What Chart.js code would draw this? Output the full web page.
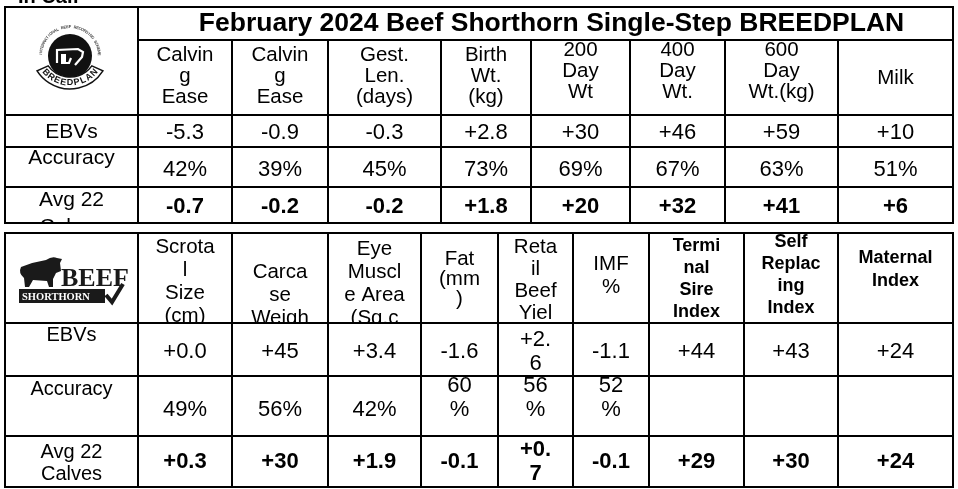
<!DOCTYPE html>
<html>
<head>
<meta charset="utf-8">
<style>
html, body { margin: 0; padding: 0; background: #fff; }
#wrap { width: 958px; height: 489px; }
</style>
<script src="https://cdn.jsdelivr.net/npm/chart.js@4.4.1/dist/chart.umd.min.js"></script>
</head>
<body>
<div id="wrap"><canvas id="c" width="958" height="489"></canvas></div>
<script>
// --- data ---
const title = "February 2024 Beef Shorthorn Single-Step BREEDPLAN";
const caption = "In Calf";
const rowLabels = [["EBVs"], ["Accuracy"], ["Avg 22", "Calves"]];

// header text as it wraps in the original cells
const topHeaders = [["Calvin", "g", "Ease"], ["Calvin", "g", "Ease"], ["Gest.", "Len.", "(days)"], ["Birth", "Wt.", "(kg)"],
  ["200", "Day", "Wt"], ["400", "Day", "Wt."], ["600", "Day", "Wt.(kg)"], ["Milk"]];
const topEbv = ["-5.3", "-0.9", "-0.3", "+2.8", "+30", "+46", "+59", "+10"];
const topAcc = ["42%", "39%", "45%", "73%", "69%", "67%", "63%", "51%"];
const topAvg = ["-0.7", "-0.2", "-0.2", "+1.8", "+20", "+32", "+41", "+6"];

const bottomHeaders = [["Scrota", "l", "Size", "(cm)"], ["Carca", "se", "Weigh"], ["Eye", "Muscl", "e Area", "(Sq.c"],
  ["Fat", "(mm", ")"], ["Reta", "il", "Beef", "Yiel"], ["IMF", "%"], ["Termi", "nal", "Sire", "Index"],
  ["Self", "Replac", "ing", "Index"], ["Maternal", "Index"]];
const bottomEbv = ["+0.0", "+45", "+3.4", "-1.6", "+2.6", "-1.1", "+44", "+43", "+24"];
const bottomAcc = ["49%", "56%", "42%", "60%", "56%", "52%", "", "", ""];
const bottomAvg = ["+0.3", "+30", "+1.9", "-0.1", "+0.7", "-0.1", "+29", "+30", "+24"];

// --- layout (scale units = px of the 958x489 picture) ---
const topCols = [5, 138, 232, 328, 441, 531, 630, 725, 838, 953];
const topRows = [7, 40, 115, 147, 187, 223];
const topHeadY = [55, 55, 55, 55, 50, 50, 50, 78];
const topValY = [133, 170, 207];
const topLabY = [132, 158, 200];

const botCols = [5, 138, 232, 328, 421, 498, 573, 649, 744, 838, 953];
const botRows = [233, 323, 376, 436, 487];
const botHeadY = [247, 272, 249, 259, 247, 264, 246, 242, 258];
const botHeadGap = [23, 23, 23, 20, 22, 23, 22, 22, 23];
const botBoldHead = [false, false, false, false, false, false, true, true, true];
const botValY = [352, 410, 462];
const botValign = ["middle", "bottom", "middle"];
const botLabY = [335, 389, 452];

const SANS = '"Liberation Sans", Arial, sans-serif';
const SERIF = '"Liberation Serif", "DejaVu Serif", serif';

// break a value by characters when it is wider than the cell allows
function wrapChars(ctx, str, maxW) {
  const lines = [];
  let cur = "";
  for (const ch of str) {
    if (cur && ctx.measureText(cur + ch).width > maxW) { lines.push(cur); cur = ch; }
    else cur += ch;
  }
  if (cur) lines.push(cur);
  return lines;
}

function drawBreedplanLogo(ctx, cx, cy) {
  ctx.save();
  // little ring text
  ctx.fillStyle = '#444';
  ctx.font = 'bold 4px ' + SANS;
  const ring = "INTERNATIONAL BEEF RECORDING SCHEME";
  const a0 = Math.PI * 1.02, a1 = Math.PI * 1.98;
  for (let i = 0; i < ring.length; i++) {
    const a = a0 + (a1 - a0) * i / (ring.length - 1);
    ctx.save();
    ctx.translate(cx + Math.cos(a) * 28, cy + Math.sin(a) * 28);
    ctx.rotate(a + Math.PI / 2);
    ctx.textAlign = 'center';
    ctx.fillText(ring[i], 0, 0);
    ctx.restore();
  }
  // black disc with cow
  ctx.fillStyle = '#111';
  ctx.beginPath(); ctx.arc(cx, cy, 22, 0, Math.PI * 2); ctx.fill();
  ctx.strokeStyle = '#fff'; ctx.lineWidth = 2.2;
  ctx.beginPath();
  ctx.moveTo(cx - 13, cy + 7); ctx.lineTo(cx - 13, cy - 6); ctx.lineTo(cx + 8, cy - 7);
  ctx.lineTo(cx + 13, cy - 4); ctx.lineTo(cx + 12, cy + 1); ctx.lineTo(cx + 5, cy + 9);
  ctx.moveTo(cx - 9, cy + 7); ctx.lineTo(cx - 1, cy + 7); ctx.lineTo(cx + 1, cy + 2);
  ctx.stroke();
  ctx.fillStyle = '#fff';
  ctx.fillRect(cx - 9, cy - 2, 5, 8);
  // banner
  ctx.fillStyle = '#fff'; ctx.strokeStyle = '#111'; ctx.lineWidth = 1.5;
  ctx.beginPath();
  ctx.arc(cx, cy - 6, 39, Math.PI * 0.18, Math.PI * 0.82);
  ctx.arc(cx, cy - 6, 27, Math.PI * 0.8, Math.PI * 0.2, true);
  ctx.closePath(); ctx.fill(); ctx.stroke();
  ctx.fillStyle = '#111';
  ctx.font = 'bold 9px ' + SANS;
  const word = "BREEDPLAN";
  const b0 = Math.PI * 0.76, b1 = Math.PI * 0.24;
  for (let i = 0; i < word.length; i++) {
    const a = b0 + (b1 - b0) * i / (word.length - 1);
    ctx.save();
    ctx.translate(cx + Math.cos(a) * 33, cy - 6 + Math.sin(a) * 33);
    ctx.rotate(a - Math.PI / 2);
    ctx.textAlign = 'center'; ctx.textBaseline = 'middle';
    ctx.fillText(word[i], 0, 0);
    ctx.restore();
  }
  ctx.restore();
}

function drawShorthornLogo(ctx, x0, y0) {
  ctx.save();
  ctx.fillStyle = '#1a1a1a';
  // bull silhouette
  ctx.beginPath();
  ctx.moveTo(x0 + 2, y0 + 10);
  ctx.quadraticCurveTo(x0 + 14, y0 + 5, x0 + 27, y0 + 3);
  ctx.quadraticCurveTo(x0 + 33, y0 - 1, x0 + 38, y0 + 1);
  ctx.lineTo(x0 + 43, y0 + 2);
  ctx.lineTo(x0 + 41, y0 + 6);
  ctx.lineTo(x0 + 42, y0 + 14);
  ctx.lineTo(x0 + 37, y0 + 16);
  ctx.lineTo(x0 + 34, y0 + 22);
  ctx.lineTo(x0 + 34, y0 + 30);
  ctx.lineTo(x0 + 30, y0 + 30);
  ctx.lineTo(x0 + 28, y0 + 24);
  ctx.lineTo(x0 + 14, y0 + 23);
  ctx.lineTo(x0 + 10, y0 + 30);
  ctx.lineTo(x0 + 6, y0 + 30);
  ctx.lineTo(x0 + 5, y0 + 21);
  ctx.quadraticCurveTo(x0 - 1, y0 + 16, x0 + 2, y0 + 10);
  ctx.fill();
  // BEEF
  ctx.font = 'bold 26px ' + SERIF;
  ctx.textBaseline = 'alphabetic';
  ctx.fillText("BEEF", x0 + 42, y0 + 29);
  // bar with SHORTHORN
  ctx.fillRect(x0, y0 + 32, 86, 14);
  ctx.fillStyle = '#fff';
  ctx.font = 'bold 10.5px ' + SERIF;
  ctx.fillText("SHORTHORN", x0 + 3, y0 + 43);
  // tick
  ctx.strokeStyle = '#1a1a1a'; ctx.lineWidth = 4;
  ctx.beginPath();
  ctx.moveTo(x0 + 87, y0 + 38); ctx.lineTo(x0 + 93, y0 + 45); ctx.lineTo(x0 + 104, y0 + 27);
  ctx.stroke();
  ctx.restore();
}

const tablePlugin = {
  id: 'tablePlugin',
  afterDraw(chart) {
    const ctx = chart.ctx;
    const X = v => chart.scales.x.getPixelForValue(v);
    const Y = v => chart.scales.y.getPixelForValue(v);

    function cellText(lines, x0, x1, y0, y1, firstY, gap, font, dx) {
      ctx.save();
      ctx.beginPath();
      ctx.rect(X(x0) + 1, Y(y0) + 1, X(x1) - X(x0) - 2, Y(y1) - Y(y0) - 2);
      ctx.clip();
      ctx.font = font;
      ctx.fillStyle = '#000';
      ctx.textAlign = 'center';
      ctx.textBaseline = 'middle';
      const cx = (X(x0) + X(x1)) / 2 + (dx || 0);
      lines.forEach((t, i) => ctx.fillText(t, cx, Y(firstY + i * gap)));
      ctx.restore();
    }

    function valueCell(str, x0, x1, y0, y1, yc, valign, font) {
      if (!str) return;
      ctx.save();
      ctx.font = font;
      const lines = wrapChars(ctx, str, (X(x1) - X(x0)) - 35);
      ctx.restore();
      const gap = 24;
      let first;
      if (valign === 'bottom') first = yc - (lines.length - 1) * gap;
      else first = yc - (lines.length - 1) * gap / 2;
      cellText(lines, x0, x1, y0, y1, first, gap, font);
    }

    function line(x0, y0, x1, y1) {
      ctx.beginPath();
      ctx.moveTo(X(x0), Y(y0));
      ctx.lineTo(X(x1), Y(y1));
      ctx.stroke();
    }

    // caption clipped at the top edge
    ctx.save();
    ctx.font = 'bold 20px ' + SANS;
    ctx.fillStyle = '#000';
    ctx.textBaseline = 'alphabetic';
    ctx.fillText(caption, X(18), Y(3));
    ctx.restore();

    // ---------- top table ----------
    const tr = topRows, tc = topCols;
    cellText([title], tc[1], tc[tc.length - 1], tr[0], tr[1], 24, 0, 'bold 26.5px ' + SANS, 6);
    topHeaders.forEach((h, i) => {
      cellText(h, tc[i + 1], tc[i + 2], tr[1], tr[2], topHeadY[i], 21, '20.5px ' + SANS);
    });
    const topSeries = [topEbv, topAcc, topAvg];
    topSeries.forEach((vals, r) => {
      cellText(rowLabels[r], tc[0], tc[1], tr[r + 2], tr[r + 3], topLabY[r], 27, '21px ' + SANS);
      const font = (r === 2 ? 'bold ' : '') + '22px ' + SANS;
      vals.forEach((v, i) => valueCell(v, tc[i + 1], tc[i + 2], tr[r + 2], tr[r + 3], topValY[r], 'middle', font));
    });
    drawBreedplanLogo(ctx, X(70), Y(56));

    ctx.save();
    ctx.strokeStyle = '#000';
    ctx.lineWidth = 2;
    ctx.strokeRect(X(tc[0]), Y(tr[0]), X(tc[tc.length - 1]) - X(tc[0]), Y(tr[tr.length - 1]) - Y(tr[0]));
    line(tc[1], tr[0], tc[1], tr[tr.length - 1]);
    for (let i = 2; i < tc.length - 1; i++) line(tc[i], tr[1], tc[i], tr[tr.length - 1]);
    line(tc[1], tr[1], tc[tc.length - 1], tr[1]);
    for (let j = 2; j < tr.length - 1; j++) line(tc[0], tr[j], tc[tc.length - 1], tr[j]);

    // ---------- bottom table ----------
    const br = botRows, bc = botCols;
    bottomHeaders.forEach((h, i) => {
      const font = botBoldHead[i] ? 'bold 18px ' + SANS : '20.5px ' + SANS;
      cellText(h, bc[i + 1], bc[i + 2], br[0], br[1], botHeadY[i], botHeadGap[i], font);
    });
    const botSeries = [bottomEbv, bottomAcc, bottomAvg];
    botSeries.forEach((vals, r) => {
      cellText(rowLabels[r], bc[0], bc[1], br[r + 1], br[r + 2], botLabY[r], 22, '20px ' + SANS);
      const font = (r === 2 ? 'bold ' : '') + '22px ' + SANS;
      vals.forEach((v, i) => valueCell(v, bc[i + 1], bc[i + 2], br[r + 1], br[r + 2], botValY[r], botValign[r], font));
    });
    drawShorthornLogo(ctx, X(19), Y(257));

    ctx.strokeRect(X(bc[0]), Y(br[0]), X(bc[bc.length - 1]) - X(bc[0]), Y(br[br.length - 1]) - Y(br[0]));
    for (let i = 1; i < bc.length - 1; i++) line(bc[i], br[0], bc[i], br[br.length - 1]);
    for (let j = 1; j < br.length - 1; j++) line(bc[0], br[j], bc[bc.length - 1], br[j]);
    ctx.restore();
  }
};

new Chart(document.getElementById('c'), {
  type: 'scatter',
  data: { datasets: [{ data: [], pointRadius: 0 }] },
  options: {
    responsive: false,
    animation: false,
    events: [],
    layout: { padding: 0 },
    plugins: { legend: { display: false }, tooltip: { enabled: false } },
    scales: {
      x: { type: 'linear', min: 0, max: 958, display: false },
      y: { type: 'linear', min: 0, max: 489, reverse: true, display: false }
    }
  },
  plugins: [tablePlugin]
});
</script>
</body>
</html>
